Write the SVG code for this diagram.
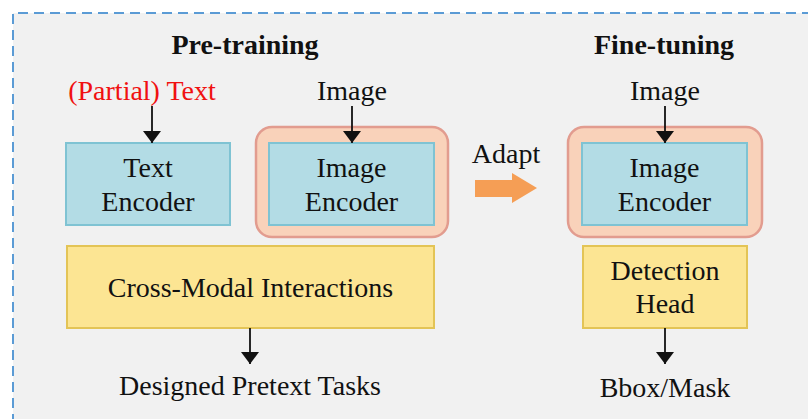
<svg xmlns="http://www.w3.org/2000/svg" width="808" height="419" viewBox="0 0 808 419">
<style>
text{font-family:"Liberation Serif","Times New Roman",serif;font-size:28px;fill:#111;text-anchor:middle}
.title{font-weight:bold}
.red{fill:#F01010}
.blue{fill:#B3DCE5;stroke:#7FC3D3;stroke-width:2}
.outer{fill:#F9D2BA;stroke:#E29C8F;stroke-width:2.5}
.yellow{fill:#FCE593;stroke:#E3C456;stroke-width:2}
.conn{stroke:#111;stroke-width:1.8;fill:none}
</style>
<defs>
<marker id="ah" viewBox="0 0 12 18" refX="12" refY="9" markerWidth="12" markerHeight="18" markerUnits="userSpaceOnUse" orient="auto">
<path d="M0,0 L12,9 L0,18 Z" fill="#111"/>
</marker>
</defs>
<rect x="0" y="0" width="808" height="419" fill="#FFFFFF"/>
<rect x="13" y="13" width="820" height="440" fill="#F1F1F1"/>
<path d="M13,440 L13,13 L808,13" fill="none" stroke="#5B9BD5" stroke-width="2" stroke-dasharray="10,6"/>

<text class="title" x="245" y="54">Pre-training</text>
<text class="title" x="664" y="54">Fine-tuning</text>

<g id="partial-text"><text class="red" x="142" y="100">(Partial) Text</text></g>
<g id="image-label-pre"><text x="352" y="100">Image</text></g>
<g id="image-label-fine"><text x="665" y="100">Image</text></g>

<g id="text-encoder">
<rect class="blue" x="66" y="143" width="164" height="82"/>
<text x="148" y="177">Text</text>
<text x="148" y="211">Encoder</text>
</g>

<g id="image-encoder-pre">
<rect class="outer" x="256" y="127" width="192" height="110" rx="16"/>
<rect class="blue" x="269" y="143" width="165" height="82"/>
<text x="351.5" y="177">Image</text>
<text x="351.5" y="211">Encoder</text>
</g>

<g id="adapt">
<text x="506" y="163">Adapt</text>
<path d="M475,180 L512,180 L512,173 L537,188 L512,203 L512,197 L475,197 Z" fill="#F59E55"/>
</g>

<g id="image-encoder-fine">
<rect class="outer" x="568" y="127" width="194" height="110" rx="16"/>
<rect class="blue" x="582" y="143" width="165" height="82"/>
<text x="664.5" y="177">Image</text>
<text x="664.5" y="211">Encoder</text>
</g>

<g id="cross-modal">
<rect class="yellow" x="67" y="246" width="367" height="82"/>
<text x="250.5" y="297">Cross-Modal Interactions</text>
</g>

<g id="detection-head">
<rect class="yellow" x="583" y="246" width="164" height="82"/>
<text x="665" y="280">Detection</text>
<text x="665" y="313">Head</text>
</g>

<g id="pretext-tasks"><text x="250" y="395">Designed Pretext Tasks</text></g>
<g id="bbox-mask"><text x="665" y="397">Bbox/Mask</text></g>

<g id="connectors">
<line class="conn" x1="152" y1="106" x2="152" y2="143" marker-end="url(#ah)"/>
<line class="conn" x1="352" y1="106" x2="352" y2="143" marker-end="url(#ah)"/>
<line class="conn" x1="665" y1="106" x2="665" y2="143" marker-end="url(#ah)"/>
<line class="conn" x1="250" y1="328" x2="250" y2="364" marker-end="url(#ah)"/>
<line class="conn" x1="665" y1="328" x2="665" y2="364" marker-end="url(#ah)"/>
</g>
</svg>
